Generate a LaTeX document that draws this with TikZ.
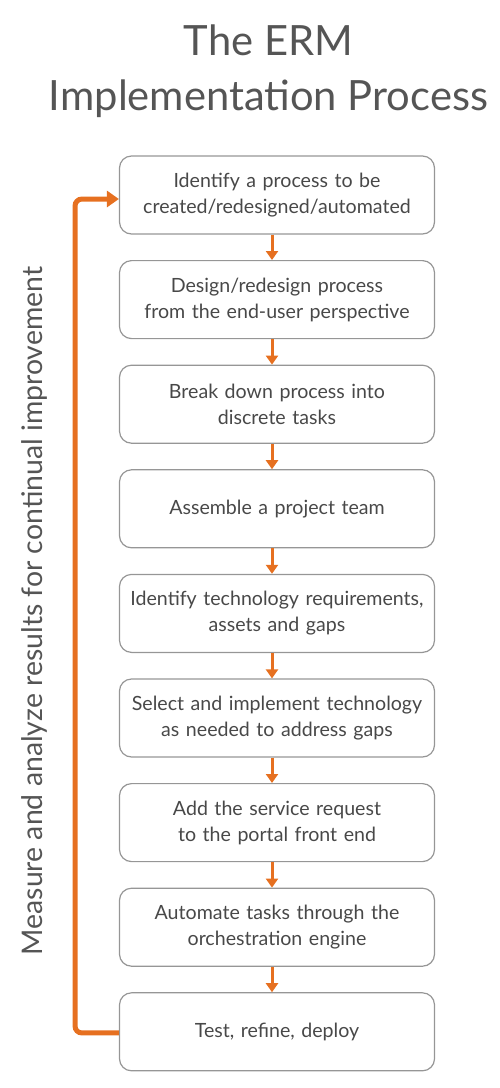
\documentclass[tikz,border=0pt]{standalone}
\usepackage{fontspec}
\setmainfont{Lato}
\usetikzlibrary{arrows.meta,positioning}
\definecolor{ermorange}{RGB}{230,112,32}
\definecolor{ermtext}{RGB}{72,72,72}
\definecolor{ermtitle}{RGB}{85,85,85}
\definecolor{ermborder}{RGB}{150,150,150}
\tikzset{
  stepbox/.style={draw=ermborder, line width=1.2pt, rounded corners=12pt,
    minimum width=315pt, minimum height=78pt, text width=312pt, align=center,
    text=ermtext, font=\fontsize{19.6}{26}\selectfont, inner sep=0pt},
  flowarrow/.style={draw=ermorange, line width=3pt, -{Triangle[length=9pt,width=12pt]}},
  looparrow/.style={draw=ermorange, line width=5pt, rounded corners=7pt, -{Triangle[length=12pt,width=16pt]}}
}
\begin{document}
\begin{tikzpicture}[x=1pt,y=1pt]
\useasboundingbox (0,0) rectangle (500,-1088);
\node[text=ermtitle, align=center, anchor=base, font=\fontsize{41.7}{55}\selectfont] (title) at (268.5,-110) {The ERM\\Implementation Process};
\node[stepbox] (s1) at (277,-195) {Identify a process to be\\created/redesigned/automated};
\node[stepbox] (s2) at (277,-299.6) {Design/redesign process\\from the end-user perspective};
\node[stepbox] (s3) at (277,-404.2) {Break down process into\\discrete tasks};
\node[stepbox] (s4) at (277,-508.8) {Assemble a project team};
\node[stepbox] (s5) at (277,-613.4) {Identify technology requirements,\\assets and gaps};
\node[stepbox] (s6) at (277,-718.0) {Select and implement technology\\as needed to address gaps};
\node[stepbox] (s7) at (277,-822.6) {Add the service request\\to the portal front end};
\node[stepbox] (s8) at (277,-927.2) {Automate tasks through the\\orchestration engine};
\node[stepbox] (s9) at (277,-1031.8) {Test, refine, deploy};
\foreach \a/\b in {s1/s2,s2/s3,s3/s4,s4/s5,s5/s6,s6/s7,s7/s8,s8/s9}{
  \draw[flowarrow] ([xshift=-5pt]\a.south) -- ([xshift=-5pt]\b.north);
}
\coordinate (lb) at (75,-1033);
\coordinate (lt) at (75,-199);
\draw[looparrow] ([yshift=-1pt]s9.west) -- (lb) -- (lt) -- (s1.west |- lt);
\node[rotate=90, anchor=base, text=ermtitle, font=\fontsize{28.4}{32}\selectfont] (side) at (42,-611) {Measure and analyze results for continual improvement};
\end{tikzpicture}
\end{document}
